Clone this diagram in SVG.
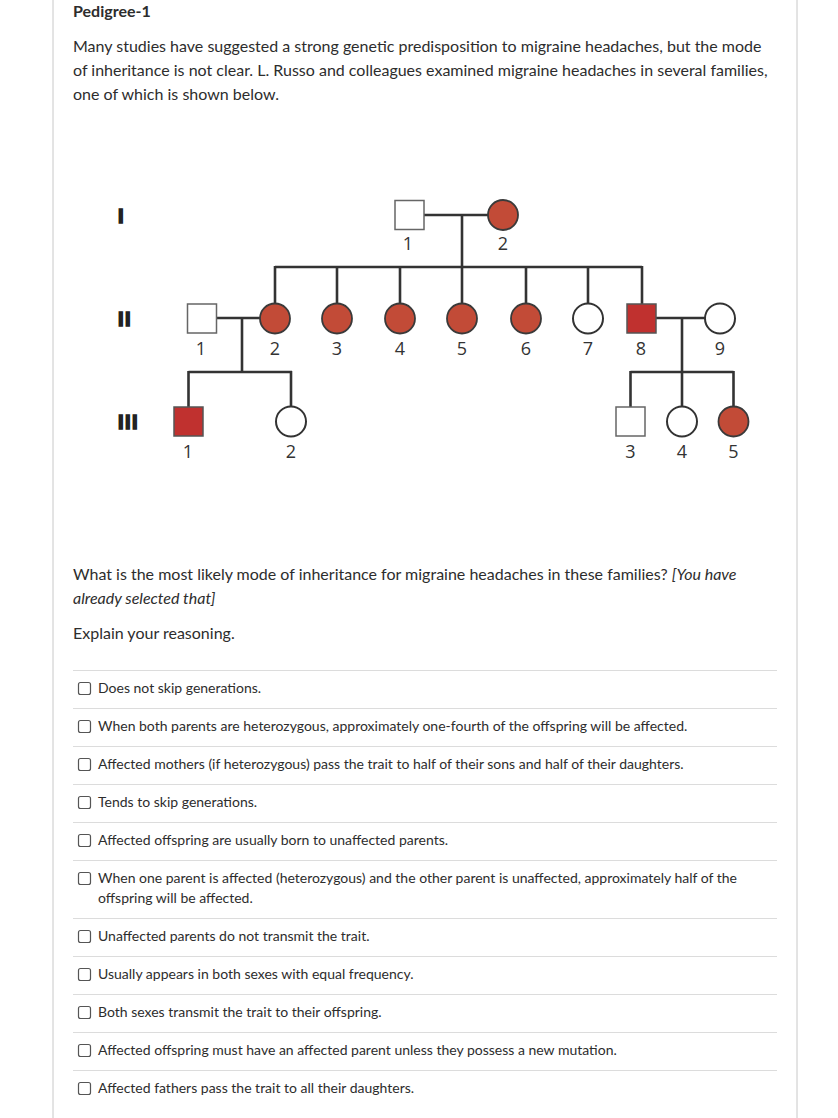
<svg xmlns="http://www.w3.org/2000/svg" width="838" height="1118" viewBox="0 0 838 1118">
<style>
.t{font-family:Lato,"Open Sans","Liberation Sans",sans-serif;fill:#2d2d2d}
.p{font-size:16px}
.o{font-size:14px}
.ttl{font-size:16px;font-weight:bold}
.it{font-style:italic}
.sep{stroke:#dcdcdc;stroke-width:1}
.cb{fill:#fff;stroke:#555;stroke-width:1.2}
.ln{stroke:#333;stroke-width:2.6;fill:none}
.sqU{fill:#fff;stroke:#666;stroke-width:1.5}
.sqA{fill:#c0312f;stroke:#555;stroke-width:1.5}
.ciU{fill:#fff;stroke:#333;stroke-width:2}
.ciA{fill:#c24b37;stroke:#3a3a3a;stroke-width:1.8}
.num{font-family:"Open Sans","Liberation Sans",sans-serif;font-size:18px;fill:#333;text-anchor:middle}
.gen{font-family:"Liberation Sans",sans-serif;font-size:20px;font-weight:bold;fill:#222;stroke:#222;stroke-width:1.6;letter-spacing:1.5px}
</style>
<rect width="838" height="1118" fill="#fff"/>
<line x1="53" y1="0" x2="53" y2="1118" stroke="#c8c8c8" stroke-width="1"/>
<line x1="797" y1="0" x2="797" y2="1118" stroke="#c8c8c8" stroke-width="1"/>
<text class="t ttl" x="73" y="17">Pedigree-1</text>
<text class="t p" x="73" y="52">Many studies have suggested a strong genetic predisposition to migraine headaches, but the mode</text>
<text class="t p" x="73" y="76">of inheritance is not clear. L. Russo and colleagues examined migraine headaches in several families,</text>
<text class="t p" x="73" y="100">one of which is shown below.</text>
<g id="generation-labels">
<text class="gen" x="118" y="223">I</text>
<text class="gen" x="118" y="326">II</text>
<text class="gen" x="118" y="429">III</text>
</g>
<g id="connectors">
<line class="ln" x1="424" y1="215" x2="488" y2="215"/>
<line class="ln" x1="462" y1="215" x2="462" y2="303"/>
<line class="ln" x1="275" y1="267" x2="642" y2="267"/>
<line class="ln" x1="275" y1="266" x2="275" y2="303"/>
<line class="ln" x1="337" y1="267" x2="337" y2="303"/>
<line class="ln" x1="400" y1="267" x2="400" y2="303"/>
<line class="ln" x1="526" y1="267" x2="526" y2="303"/>
<line class="ln" x1="588" y1="267" x2="588" y2="303"/>
<line class="ln" x1="642" y1="266" x2="642" y2="304"/>
<line class="ln" x1="217" y1="318" x2="260" y2="318"/>
<line class="ln" x1="242" y1="318" x2="242" y2="372"/>
<line class="ln" x1="188.5" y1="372" x2="292" y2="372"/>
<line class="ln" x1="188.5" y1="371" x2="188.5" y2="407"/>
<line class="ln" x1="291" y1="371" x2="291" y2="407"/>
<line class="ln" x1="656" y1="318" x2="705" y2="318"/>
<line class="ln" x1="682" y1="318" x2="682" y2="372"/>
<line class="ln" x1="630.5" y1="372" x2="733.5" y2="372"/>
<line class="ln" x1="630.5" y1="371" x2="630.5" y2="407"/>
<line class="ln" x1="682" y1="372" x2="682" y2="407"/>
<line class="ln" x1="733.5" y1="371" x2="733.5" y2="407"/>
</g>
<g id="I-1"><rect class="sqU" x="395" y="200.5" width="29" height="29"/><text class="num" x="408" y="250">1</text></g>
<g id="I-2"><circle class="ciA" cx="503" cy="215" r="15"/><text class="num" x="503" y="250">2</text></g>
<g id="II-1"><rect class="sqU" x="187.5" y="304" width="29" height="29"/><text class="num" x="201" y="355">1</text></g>
<g id="II-2"><circle class="ciA" cx="275" cy="318.5" r="15"/><text class="num" x="275" y="355">2</text></g>
<g id="II-3"><circle class="ciA" cx="337" cy="318.5" r="15"/><text class="num" x="337" y="355">3</text></g>
<g id="II-4"><circle class="ciA" cx="400" cy="318.5" r="15"/><text class="num" x="400" y="355">4</text></g>
<g id="II-5"><circle class="ciA" cx="462" cy="318.5" r="15"/><text class="num" x="462" y="355">5</text></g>
<g id="II-6"><circle class="ciA" cx="526" cy="318.5" r="15"/><text class="num" x="526" y="355">6</text></g>
<g id="II-7"><circle class="ciU" cx="588" cy="318.5" r="15"/><text class="num" x="588" y="355">7</text></g>
<g id="II-8"><rect class="sqA" x="627" y="304" width="29" height="29"/><text class="num" x="641" y="355">8</text></g>
<g id="II-9"><circle class="ciU" cx="720" cy="318.5" r="15"/><text class="num" x="720" y="355">9</text></g>
<g id="III-1"><rect class="sqA" x="174" y="407" width="29" height="29"/><text class="num" x="188" y="458">1</text></g>
<g id="III-2"><circle class="ciU" cx="291" cy="421.5" r="15"/><text class="num" x="291" y="458">2</text></g>
<g id="III-3"><rect class="sqU" x="616" y="407" width="29" height="29"/><text class="num" x="630.5" y="458">3</text></g>
<g id="III-4"><circle class="ciU" cx="682" cy="421.5" r="15"/><text class="num" x="682" y="458">4</text></g>
<g id="III-5"><circle class="ciA" cx="733.5" cy="421.5" r="15"/><text class="num" x="733.5" y="458">5</text></g>
<text class="t p" x="73" y="580">What is the most likely mode of inheritance for migraine headaches in these families? <tspan class="it">[You have</tspan></text>
<text class="t p it" x="73" y="604">already selected that]</text>
<text class="t p" x="73" y="639">Explain your reasoning.</text>
<g id="options">
<line class="sep" x1="73" y1="670.5" x2="777" y2="670.5"/>
<line class="sep" x1="73" y1="708.5" x2="777" y2="708.5"/>
<line class="sep" x1="73" y1="746.5" x2="777" y2="746.5"/>
<line class="sep" x1="73" y1="784.5" x2="777" y2="784.5"/>
<line class="sep" x1="73" y1="822.5" x2="777" y2="822.5"/>
<line class="sep" x1="73" y1="860.5" x2="777" y2="860.5"/>
<line class="sep" x1="73" y1="918.5" x2="777" y2="918.5"/>
<line class="sep" x1="73" y1="956.5" x2="777" y2="956.5"/>
<line class="sep" x1="73" y1="994.5" x2="777" y2="994.5"/>
<line class="sep" x1="73" y1="1032.5" x2="777" y2="1032.5"/>
<line class="sep" x1="73" y1="1070.5" x2="777" y2="1070.5"/>
<rect class="cb" x="78.5" y="682.5" width="12" height="12" rx="2"/>
<rect class="cb" x="78.5" y="720.5" width="12" height="12" rx="2"/>
<rect class="cb" x="78.5" y="758.5" width="12" height="12" rx="2"/>
<rect class="cb" x="78.5" y="796.5" width="12" height="12" rx="2"/>
<rect class="cb" x="78.5" y="834.5" width="12" height="12" rx="2"/>
<rect class="cb" x="78.5" y="872.5" width="12" height="12" rx="2"/>
<rect class="cb" x="78.5" y="930.5" width="12" height="12" rx="2"/>
<rect class="cb" x="78.5" y="968.5" width="12" height="12" rx="2"/>
<rect class="cb" x="78.5" y="1006.5" width="12" height="12" rx="2"/>
<rect class="cb" x="78.5" y="1044.5" width="12" height="12" rx="2"/>
<rect class="cb" x="78.5" y="1082.5" width="12" height="12" rx="2"/>
<text class="t o" x="98" y="693">Does not skip generations.</text>
<text class="t o" x="98" y="731">When both parents are heterozygous, approximately one-fourth of the offspring will be affected.</text>
<text class="t o" x="98" y="769">Affected mothers (if heterozygous) pass the trait to half of their sons and half of their daughters.</text>
<text class="t o" x="98" y="807">Tends to skip generations.</text>
<text class="t o" x="98" y="845">Affected offspring are usually born to unaffected parents.</text>
<text class="t o" x="98" y="883">When one parent is affected (heterozygous) and the other parent is unaffected, approximately half of the</text>
<text class="t o" x="98" y="903">offspring will be affected.</text>
<text class="t o" x="98" y="941">Unaffected parents do not transmit the trait.</text>
<text class="t o" x="98" y="979">Usually appears in both sexes with equal frequency.</text>
<text class="t o" x="98" y="1017">Both sexes transmit the trait to their offspring.</text>
<text class="t o" x="98" y="1055">Affected offspring must have an affected parent unless they possess a new mutation.</text>
<text class="t o" x="98" y="1093">Affected fathers pass the trait to all their daughters.</text>
</g>
</svg>
